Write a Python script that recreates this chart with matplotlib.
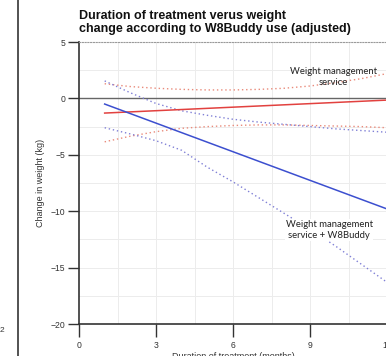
import matplotlib
matplotlib.use("Agg")
import matplotlib.pyplot as plt
from matplotlib.lines import Line2D

# fitted lines (months -> kg change)
fit_months = [1, 12]
wms_fit = [-1.3, -0.15]
w8b_fit = [-0.5, -9.8]

# confidence bands, read at each month
ci_months = [1, 2, 3, 4, 5, 6, 7, 8, 9, 10, 11, 12]
wms_upper = [1.3, 1.05, 0.9, 0.8, 0.75, 0.75, 0.8, 0.9, 1.1, 1.4, 1.75, 2.2]
wms_lower = [-3.85, -3.35, -2.95, -2.65, -2.5, -2.4, -2.35, -2.35, -2.4, -2.45, -2.5, -2.6]
w8b_upper = [1.55, 0.5, -0.45, -1.1, -1.5, -1.85, -2.1, -2.3, -2.5, -2.7, -2.85, -3.0]
w8b_lower = [-2.6, -3.15, -3.75, -4.6, -6.1, -7.4, -8.8, -10.2, -11.6, -13.1, -14.7, -16.3]

x_ticks = [0, 3, 6, 9, 12]
y_ticks = [5, 0, -5, -10, -15, -20]

RED = "#e2413f"
BLUE = "#3c4fcf"
RED_CI = "#e98a7a"
BLUE_CI = "#8080d6"

fig = plt.figure(figsize=(3.86, 3.56), dpi=100, facecolor="white")
ax = fig.add_axes([79 / 386, 32 / 356, 308 / 386, 282 / 356])

ax.set_xlim(0, 12)
ax.set_ylim(-20, 5)

# light grid every 1.5 months / 2.5 kg
for gx in [1.5 * i for i in range(1, 9)]:
    ax.axvline(gx, color="#ececec", lw=0.7, zorder=0)
for gy in [-17.5, -15, -12.5, -10, -7.5, -5, -2.5, 2.5]:
    ax.axhline(gy, color="#ececec", lw=0.7, zorder=0)
ax.axhline(0, color="#666666", lw=1.0, zorder=1)

dot = (0, (1, 2))
ax.plot(ci_months, wms_upper, color=RED_CI, lw=1.0, ls=dot, zorder=2)
ax.plot(ci_months, wms_lower, color=RED_CI, lw=1.0, ls=dot, zorder=2)
ax.plot(ci_months, w8b_upper, color=BLUE_CI, lw=1.0, ls=dot, zorder=2)
ax.plot(ci_months, w8b_lower, color=BLUE_CI, lw=1.0, ls=dot, zorder=2)
ax.plot(fit_months, wms_fit, color=RED, lw=1.1, zorder=3)
ax.plot(fit_months, w8b_fit, color=BLUE, lw=1.1, zorder=3)

lab_font = dict(family="Lato", fontsize=6.8, color="#222222", ha="center", va="center")
ax.text(9.9, 1.9, "Weight management\nservice", linespacing=1.3, zorder=4, **lab_font)
ax.text(9.75, -11.65, "Weight management\nservice + W8Buddy", linespacing=1.3, zorder=4,
        bbox=dict(facecolor="white", edgecolor="none", pad=0.5), **lab_font)

ax.spines["right"].set_visible(False)
ax.spines["top"].set_color("#9a9a9a")
ax.spines["top"].set_linestyle((0, (1, 1.5)))
ax.spines["top"].set_linewidth(0.8)
for side in ("left", "bottom"):
    ax.spines[side].set_color("#333333")
    ax.spines[side].set_linewidth(1.2)

ax.set_xticks(x_ticks)
ax.set_yticks(y_ticks)
ax.tick_params(axis="both", direction="out", length=8, width=1.0, color="#333333",
               labelsize=6.2, labelcolor="#333333", pad=2)
ax.tick_params(axis="x", length=9, pad=3)
for t in ax.get_xticklabels() + ax.get_yticklabels():
    t.set_family("Liberation Sans")

ax.set_ylabel("Change in weight (kg)", fontsize=6.5, family="Liberation Sans", color="#333333", labelpad=4)
ax.set_xlabel("Duration of treatment (months)", fontsize=6.5, family="Liberation Sans", color="#333333", labelpad=2)

fig.text(79 / 386, 1 - 10 / 356, "Duration of treatment verus weight\nchange according to W8Buddy use (adjusted)",
         ha="left", va="top", fontsize=9.0, fontweight="bold", family="Liberation Sans",
         color="#111111", linespacing=1.1)

# edge of neighbouring panel
fig.add_artist(Line2D([18 / 386, 18 / 386], [0, 1], color="#444444", lw=1.3))
fig.text(0 / 386, 1 - 331 / 356, "2", fontsize=6, family="Liberation Sans", color="#333333",
         ha="left", va="center")

fig.savefig("out.png", dpi=100, facecolor="white")
